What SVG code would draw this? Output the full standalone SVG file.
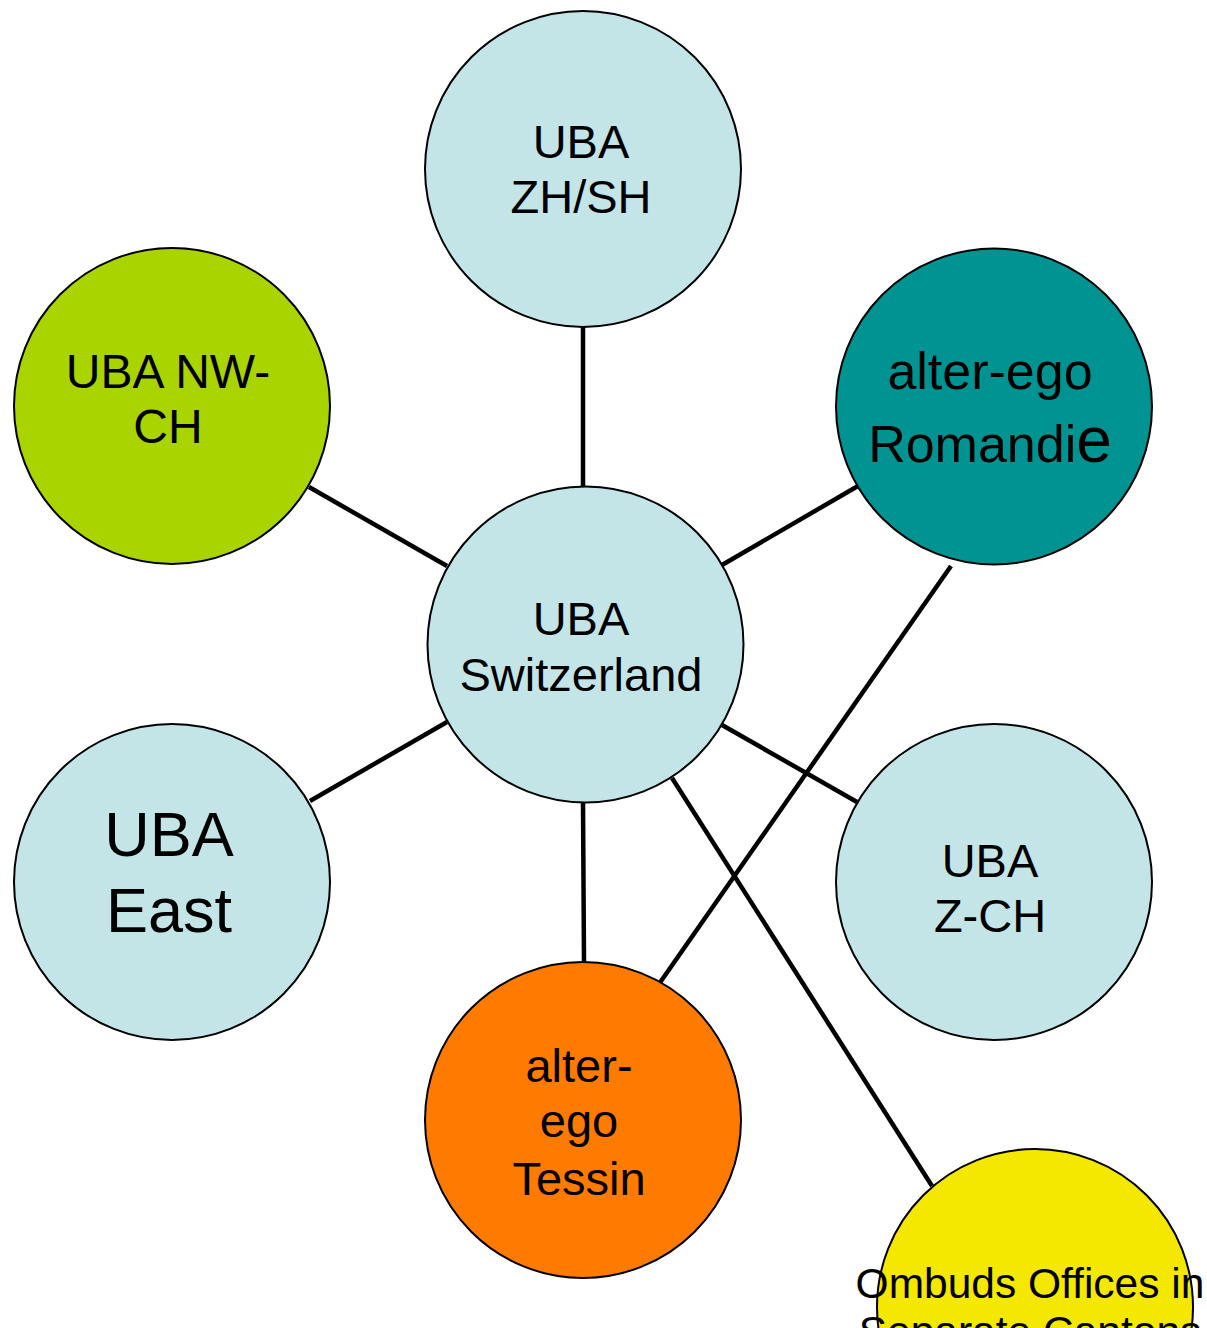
<svg xmlns="http://www.w3.org/2000/svg" width="1207" height="1328" viewBox="0 0 1207 1328">
<style>
.n{stroke:#000;stroke-width:2}
.lb{fill:#C4E5E8}
.t{font-family:"Liberation Sans",Arial,sans-serif;font-size:47px;fill:#000;text-anchor:middle}
.c line{stroke:#000;stroke-width:4.5}
</style>
<rect width="1207" height="1328" fill="#fff"/>
<g id="connectors" class="c">
<line x1="583" y1="327" x2="583" y2="487"/>
<line x1="309" y1="487" x2="447" y2="566"/>
<line x1="858" y1="486" x2="722" y2="565"/>
<line x1="310" y1="801" x2="447" y2="722"/>
<line x1="722" y1="725" x2="857" y2="802"/>
<line x1="583" y1="802" x2="584" y2="962"/>
<line x1="951" y1="566" x2="659" y2="984"/>
<line x1="672" y1="778" x2="932" y2="1186"/>
</g>
<g id="n-top"><circle class="n lb" cx="583" cy="169" r="158"/><text class="t" x="581" y="158">UBA</text><text class="t" x="581" y="213">ZH/SH</text></g>
<g id="n-nw"><circle class="n" fill="#AAD400" cx="172" cy="406" r="158"/><text class="t" style="font-size:48px" x="168" y="388">UBA NW-</text><text class="t" style="font-size:48px" x="168" y="443">CH</text></g>
<g id="n-romandie"><circle class="n" fill="#009391" cx="994" cy="406.5" r="158"/><text class="t" style="font-size:52px" x="990" y="389">alter-ego</text><text class="t" style="font-size:52px" x="990" y="462">Romandi<tspan style="font-size:64px">e</tspan></text></g>
<g id="n-east"><circle class="n lb" cx="172" cy="882" r="158"/><text class="t" style="font-size:63px" x="169" y="856">UBA</text><text class="t" style="font-size:63px" x="169" y="932">East</text></g>
<g id="n-zch"><circle class="n lb" cx="994" cy="882" r="158"/><text class="t" x="990" y="877">UBA</text><text class="t" x="990" y="932">Z-CH</text></g>
<g id="n-tessin"><circle class="n" fill="#FF7B00" cx="583" cy="1120" r="158"/><text class="t" x="579" y="1082">alter-</text><text class="t" x="579" y="1137">ego</text><text class="t" x="579" y="1195">Tessin</text></g>
<g id="n-center"><circle class="n lb" cx="585.5" cy="644.5" r="158"/><text class="t" x="581" y="635">UBA</text><text class="t" x="581" y="691">Switzerland</text></g>
<g id="n-ombuds"><circle class="n" fill="#F5E800" cx="1035" cy="1307" r="158"/><text class="t" style="font-size:42.5px" x="1030" y="1298">Ombuds Offices in</text><text class="t" style="font-size:42.5px" x="1030" y="1346">Separate Cantons</text></g>
</svg>
